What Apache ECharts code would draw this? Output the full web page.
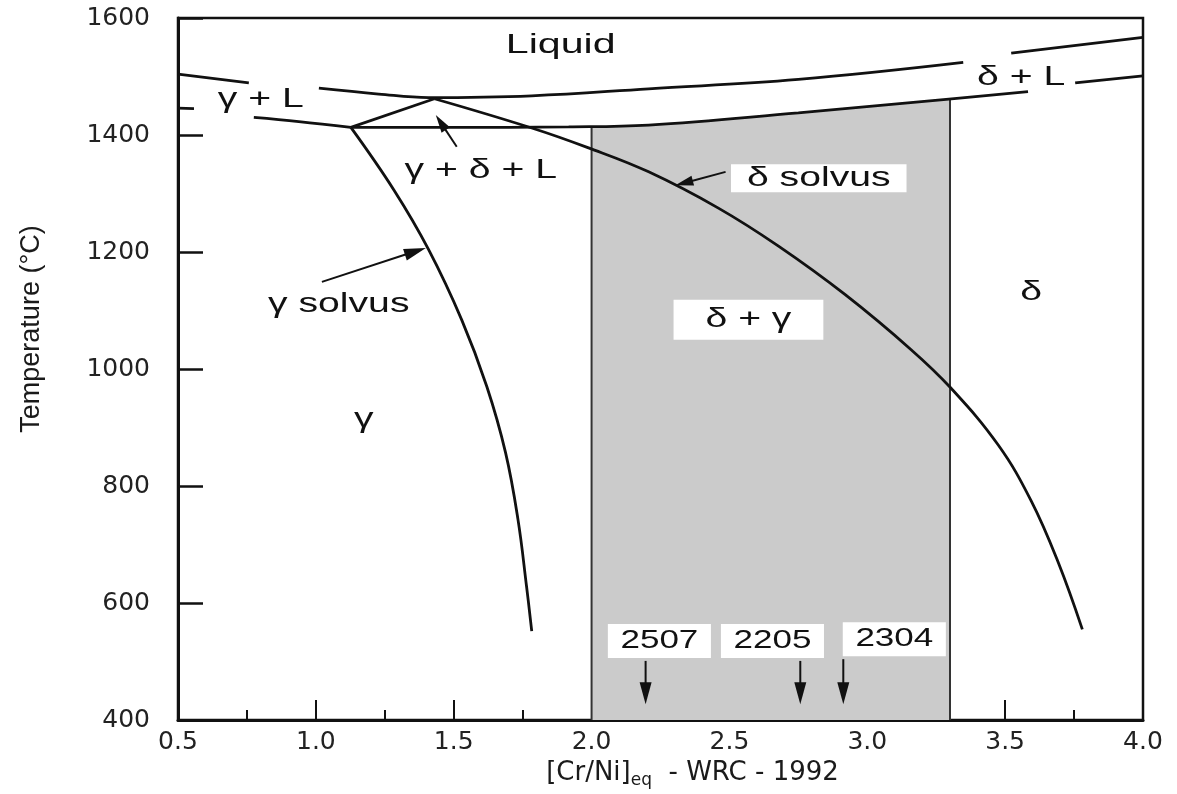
<!DOCTYPE html>
<html>
<head>
<meta charset="utf-8">
<script src="https://cdn.jsdelivr.net/npm/echarts/dist/echarts.min.js"></script>
<style>
html,body{margin:0;padding:0;background:#ffffff;}
#chart{width:1177px;height:794px;}
</style>
</head>
<body>
<div id="chart"></div>
<script>
// ---------- tick labels ----------
const xTicks = ['0.5', '1.0', '1.5', '2.0', '2.5', '3.0', '3.5', '4.0'];
const yTicks = ['400', '600', '800', '1000', '1200', '1400', '1600'];

// ---------- phase boundaries ([Cr/Ni]eq , temperature °C) ----------
const liquidusA_X = [0.50, 0.757];
const liquidusA_T = [1504, 1489];
const liquidusB_X = [1.011, 1.228, 1.409, 1.783, 2.207, 2.750, 3.348];
const liquidusB_T = [1480, 1470, 1464, 1467, 1479, 1495, 1524];
const liquidusC_X = [3.522, 4.00];
const liquidusC_T = [1540, 1567];

const gammaSolidusA_X = [0.50, 0.558];
const gammaSolidusA_T = [1446, 1445];
const gammaSolidusB_X = [0.775, 0.938, 1.127];
const gammaSolidusB_T = [1430, 1423, 1413];

const peritecticX = [1.127, 1.43];
const peritecticT = [1413, 1462];

const deltaSolidusA_X = [1.127, 1.482, 1.917, 2.207, 2.750, 3.286, 3.583];
const deltaSolidusA_T = [1413, 1413, 1414, 1417, 1438, 1461, 1474];
const deltaSolidusB_X = [3.754, 4.00];
const deltaSolidusB_T = [1489, 1501];

const gammaSolvusX = [1.127, 1.283, 1.409, 1.529, 1.620, 1.688, 1.733, 1.764, 1.783];
const gammaSolvusT = [1413, 1306, 1204, 1084, 970, 857, 743, 629, 552];

const deltaSolvusX = [1.43, 1.783, 1.989, 2.207, 2.460, 2.678, 2.920, 3.159, 3.304, 3.475, 3.594, 3.692, 3.780];
const deltaSolvusT = [1462, 1412, 1378, 1337, 1275, 1210, 1127, 1033, 967, 870, 775, 670, 555];

// duplex (δ + γ) window, shaded
const duplexX = [2.0, 2.207, 2.750, 3.30];
const duplexTopT = [1415, 1417, 1438, 1461];

// ---------- region / curve labels ----------
const labelText = ['Liquid', 'γ + L', 'γ + δ + L', 'δ solvus', 'δ + γ', 'δ', 'γ', 'γ solvus', 'δ + L', '2507', '2205', '2304'];
const labelX = [1.888, 0.80, 1.598, 2.824, 2.569, 3.594, 1.174, 1.083, 3.558, 2.246, 2.656, 3.098];
const labelT = [1554, 1460, 1340, 1326, 1084, 1130, 914, 1110, 1498, 535, 535, 538];
const labelBoxed = [0, 0, 0, 1, 1, 0, 0, 0, 0, 1, 1, 1];

// ---------- arrows (tail -> head) ----------
const arrowTailX = [1.511, 2.486, 1.022, 2.196, 2.757, 2.913];
const arrowTailT = [1380, 1337, 1149, 501, 501, 504];
const arrowHeadX = [1.435, 2.304, 1.399, 2.196, 2.757, 2.913];
const arrowHeadT = [1434, 1314, 1207, 427, 427, 427];

// ---------- building the chart ----------
const INK = '#111111';
const pairs = (xs, ts) => xs.map((x, i) => [x, ts[i]]);

function curve(xs, ts, smooth) {
  return {
    type: 'line', data: pairs(xs, ts), symbol: 'none', showSymbol: false,
    smooth: smooth ? 0.4 : false,
    lineStyle: { color: INK, width: 2.8 }, z: 3, silent: true, animation: false
  };
}

function labelStyle(i) {
  const t = labelText[i];
  if (/^\d+$/.test(t)) return { size: 25, sx: 1.4, pad: [5, 9, 4, 9] };
  if (t === 'δ solvus') return { size: 27, sx: 1.45, pad: [1, 11, 0, 11] };
  if (t === 'δ + γ') return { size: 27, sx: 1.45, pad: [7, 22, 6, 22] };
  if (t === 'Liquid') return { size: 28, sx: 1.47, pad: 0 };
  return { size: 27, sx: 1.45, pad: 0 };
}

function renderLabel(params, api) {
  const i = params.dataIndex;
  const p = api.coord([api.value(0), api.value(1)]);
  const st = labelStyle(i);
  return {
    type: 'text', x: p[0], y: p[1], scaleX: st.sx,
    style: {
      text: labelText[i], fill: INK, fontFamily: 'Liberation Sans, Arial, sans-serif',
      fontSize: st.size, align: 'center', verticalAlign: 'middle',
      backgroundColor: labelBoxed[i] ? '#ffffff' : 'transparent', padding: st.pad
    }
  };
}

function renderArrow(params, api) {
  const t = api.coord([api.value(0), api.value(1)]);
  const h = api.coord([api.value(2), api.value(3)]);
  const dx = h[0] - t[0], dy = h[1] - t[1];
  const len = Math.hypot(dx, dy) || 1;
  const ux = dx / len, uy = dy / len;
  const big = params.dataIndex >= 2;
  const L = big ? 22 : 18, W = big ? 12 : 10;
  const bx = h[0] - ux * L, by = h[1] - uy * L;
  const px = -uy, py = ux;
  return {
    type: 'group', children: [
      { type: 'line', shape: { x1: t[0], y1: t[1], x2: bx + ux * 3, y2: by + uy * 3 }, style: { stroke: INK, lineWidth: 2 } },
      { type: 'polygon', shape: { points: [[h[0], h[1]], [bx + px * W / 2, by + py * W / 2], [bx - px * W / 2, by - py * W / 2]] }, style: { fill: INK } }
    ]
  };
}

const xMin = parseFloat(xTicks[0]), xMax = parseFloat(xTicks[xTicks.length - 1]);
const yMin = parseFloat(yTicks[0]), yMax = parseFloat(yTicks[yTicks.length - 1]);

const option = {
  animation: false,
  backgroundColor: '#ffffff',
  grid: { left: 178, right: 34, top: 18, bottom: 73, show: true, borderColor: INK, borderWidth: 2.5, backgroundColor: 'transparent' },
  xAxis: {
    type: 'value', min: xMin, max: xMax, interval: 0.5,
    name: '[Cr/Ni]{sub|eq}  - WRC - 1992', nameLocation: 'middle', nameGap: 38,
    nameTextStyle: {
      fontFamily: 'DejaVu Sans', fontSize: 26, color: '#1a1a1a', padding: [0, 0, 0, 64],
      rich: { sub: { fontFamily: 'DejaVu Sans', fontSize: 17, color: '#1a1a1a', padding: [14, 0, 0, 0] } }
    },
    axisLine: { onZero: false, lineStyle: { color: INK, width: 3 } },
    axisTick: { inside: true, length: 20, lineStyle: { color: INK, width: 2 } },
    minorTick: { show: true, splitNumber: 2, length: 10, lineStyle: { color: INK, width: 2 } },
    axisLabel: { margin: 10, fontFamily: 'DejaVu Sans', fontSize: 25, color: '#222', formatter: v => xTicks.find(s => Math.abs(parseFloat(s) - v) < 1e-6) || '' },
    splitLine: { show: false }
  },
  yAxis: {
    type: 'value', min: yMin, max: yMax, interval: 200,
    name: 'Temperature (°C)', nameLocation: 'middle', nameGap: 133,
    nameTextStyle: { fontFamily: 'Liberation Sans', fontSize: 27, color: '#1a1a1a', padding: [0, 0, 0, 80] },
    axisLine: { onZero: false, lineStyle: { color: INK, width: 3 } },
    axisTick: { inside: true, length: 25, lineStyle: { color: INK, width: 2.5 } },
    axisLabel: { margin: 28, fontFamily: 'DejaVu Sans', fontSize: 25, color: '#222', formatter: v => yTicks.find(s => parseFloat(s) === v) || '' },
    splitLine: { show: false }
  },
  series: [
    {
      type: 'line', data: pairs(duplexX, duplexTopT), symbol: 'none', showSymbol: false,
      lineStyle: { width: 0 }, areaStyle: { color: '#cbcbcb', opacity: 1, origin: 'start' }, z: 1, silent: true
    },
    {
      type: 'line', data: [[duplexX[0], yMin], [duplexX[0], duplexTopT[0]]], symbol: 'none',
      lineStyle: { color: '#333', width: 2 }, z: 2, silent: true
    },
    {
      type: 'line', data: [[duplexX[duplexX.length - 1], yMin], [duplexX[duplexX.length - 1], duplexTopT[duplexTopT.length - 1]]], symbol: 'none',
      lineStyle: { color: '#333', width: 2 }, z: 2, silent: true
    },
    curve(liquidusA_X, liquidusA_T, false),
    curve(liquidusB_X, liquidusB_T, true),
    curve(liquidusC_X, liquidusC_T, false),
    curve(gammaSolidusA_X, gammaSolidusA_T, false),
    curve(gammaSolidusB_X, gammaSolidusB_T, true),
    curve(peritecticX, peritecticT, false),
    curve(deltaSolidusA_X, deltaSolidusA_T, true),
    curve(deltaSolidusB_X, deltaSolidusB_T, false),
    curve(gammaSolvusX, gammaSolvusT, true),
    curve(deltaSolvusX, deltaSolvusT, true),
    {
      type: 'custom', renderItem: renderArrow, z: 4, silent: true, clip: false,
      encode: { x: [0, 2], y: [1, 3] },
      data: arrowTailX.map((x, i) => [x, arrowTailT[i], arrowHeadX[i], arrowHeadT[i]])
    },
    {
      type: 'custom', renderItem: renderLabel, z: 5, silent: true, clip: false,
      encode: { x: 0, y: 1 },
      data: pairs(labelX, labelT)
    }
  ]
};

const chart = echarts.init(document.getElementById('chart'), null, { renderer: 'canvas' });
chart.setOption(option);
</script>
</body>
</html>
